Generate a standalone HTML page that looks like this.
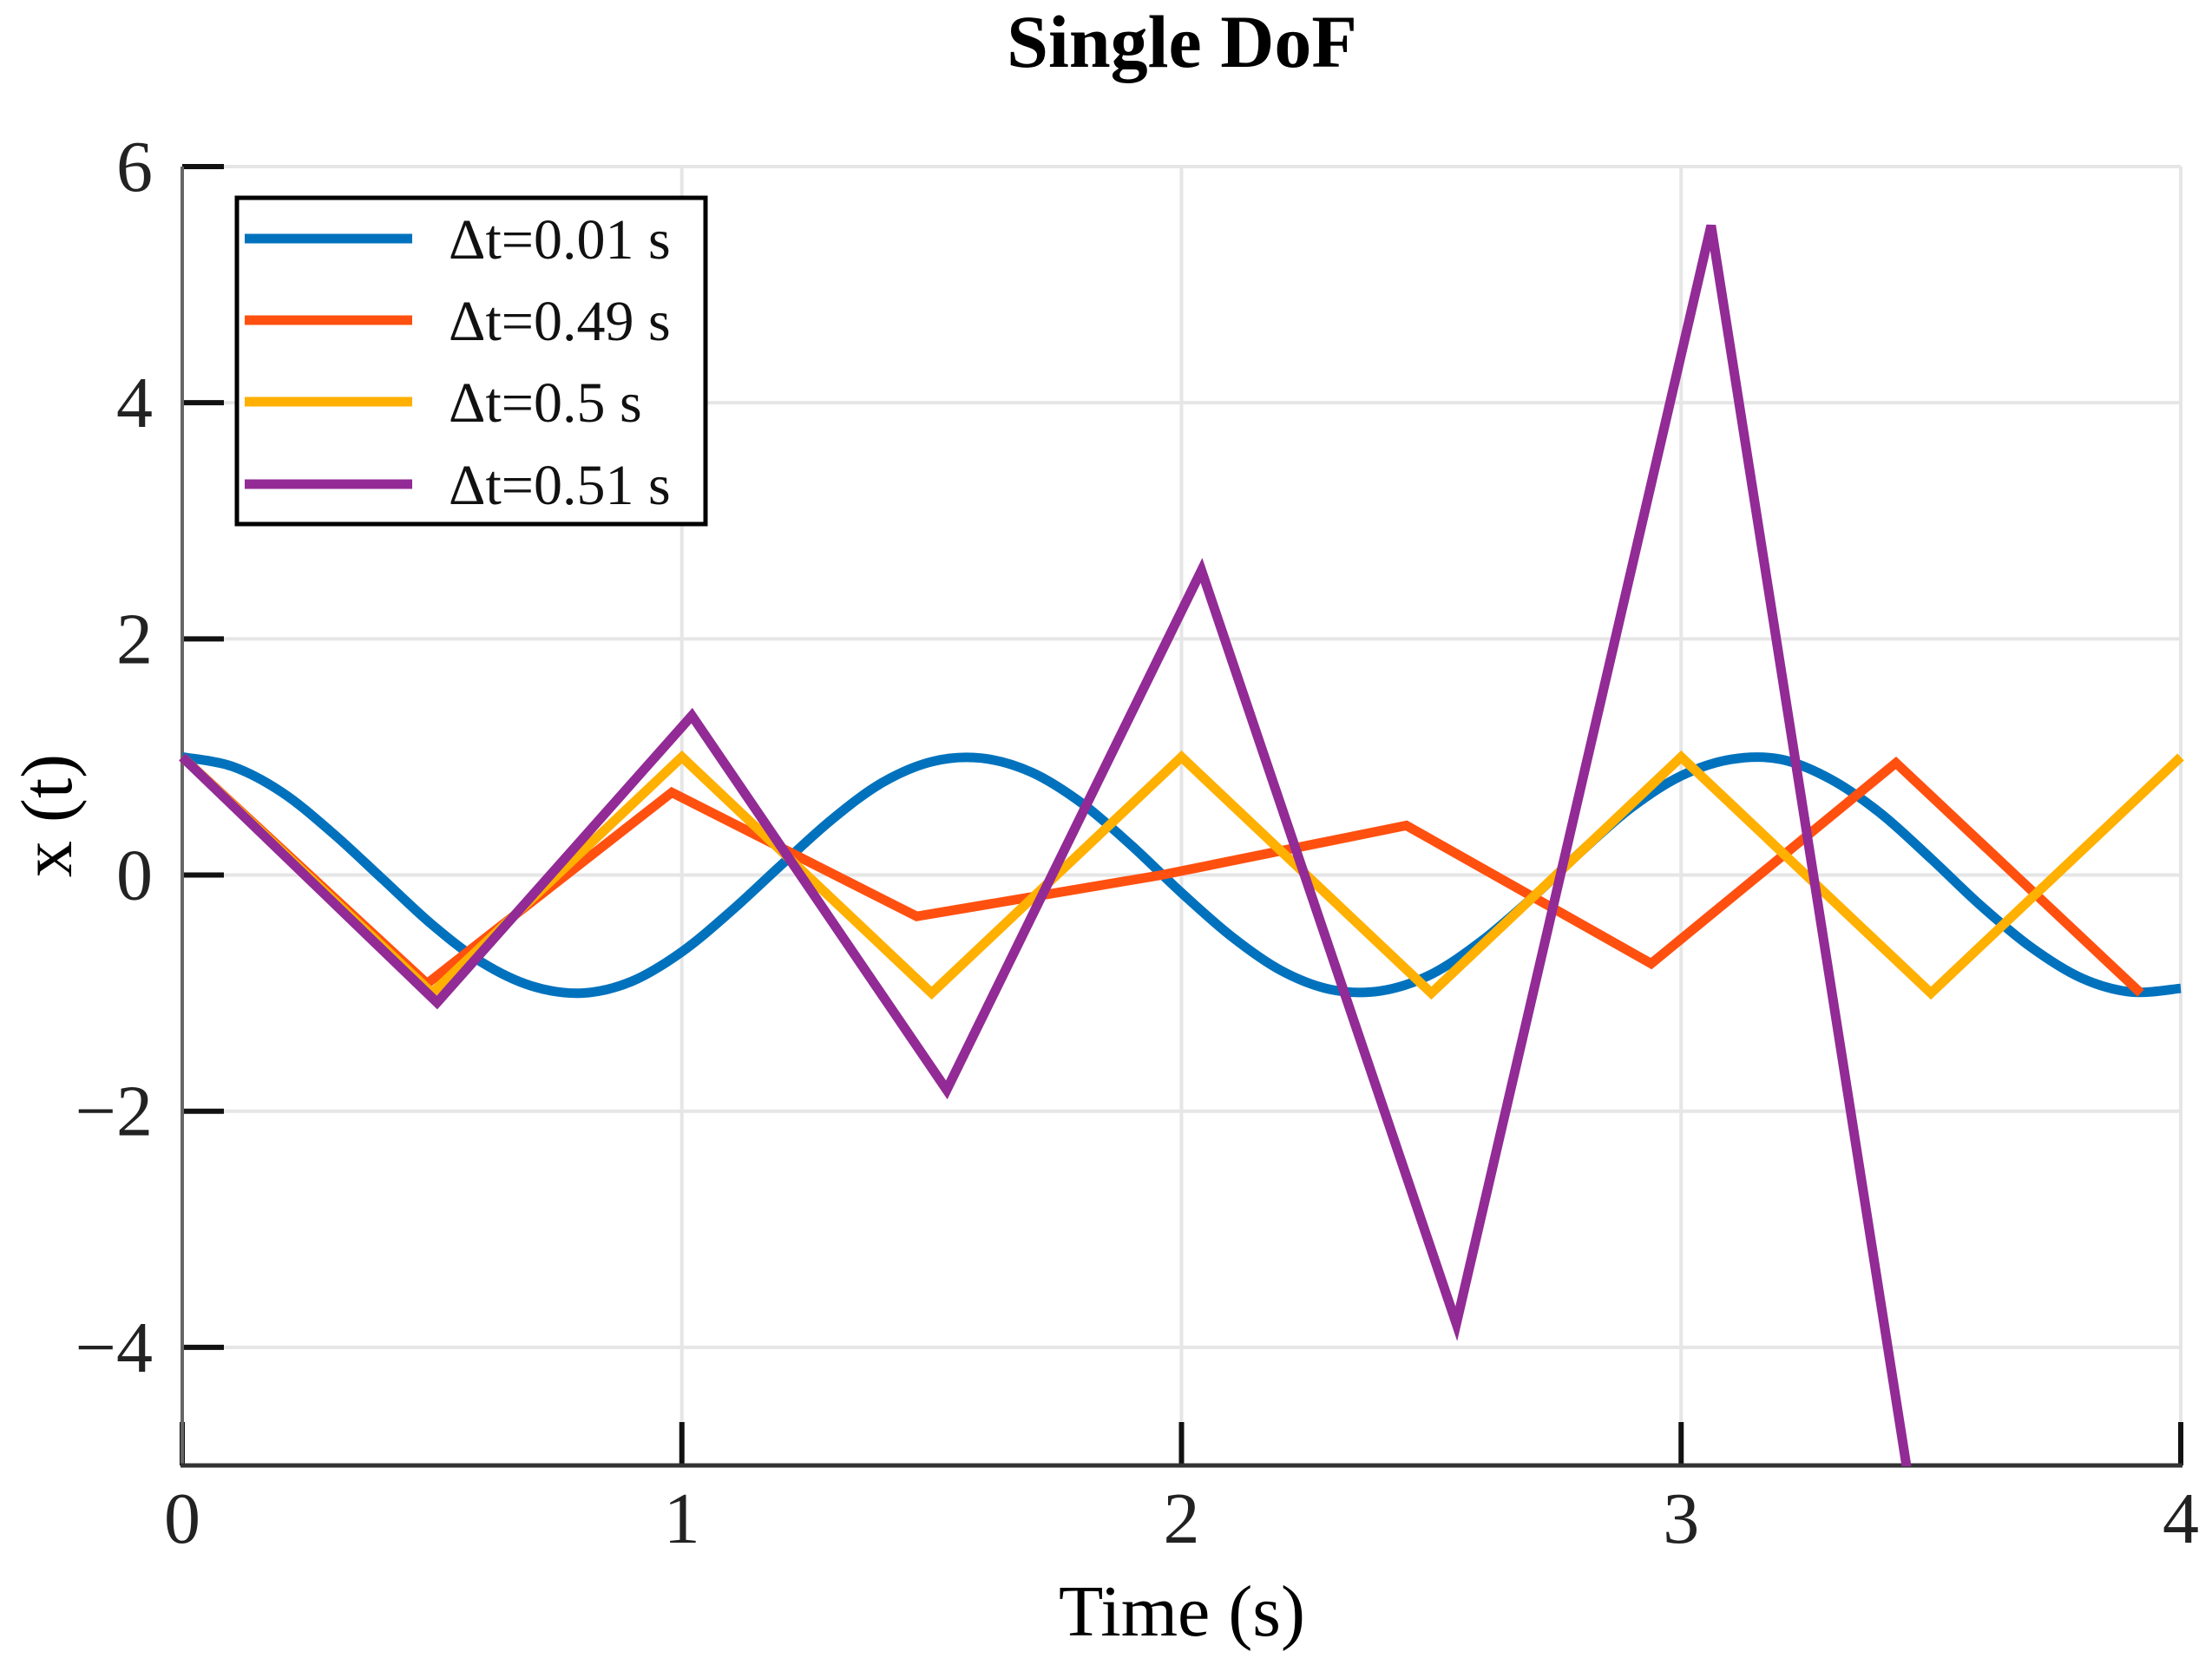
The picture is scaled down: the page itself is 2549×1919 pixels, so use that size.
<!DOCTYPE html>
<html><head><meta charset="utf-8"><style>
html,body{margin:0;padding:0;background:#fff;width:2549px;height:1919px;overflow:hidden;}
svg{display:block;font-family:"Liberation Serif",serif;}
</style></head><body>
<svg id="chart" width="2549" height="1919" viewBox="0 0 2549 1919" xmlns="http://www.w3.org/2000/svg">
<defs><clipPath id="plotclip"><rect x="204" y="186" width="2316" height="1504"/></clipPath></defs>
<text x="1362" y="77" text-anchor="middle" font-size="86" font-weight="bold">Single DoF</text>
<g id="grid"></g>
<g id="axes"></g>
<g id="series" clip-path="url(#plotclip)"></g>
<text x="1362" y="1885" text-anchor="middle" font-size="84">Time (s)</text>
<text x="0" y="0" transform="translate(82,940) rotate(-90)" text-anchor="middle" font-size="84">x (t)</text>
<g id="legend"></g>
</svg>
<script>
const xTicks = [0, 1, 2, 3, 4];
const xTickLabels = ["0", "1", "2", "3", "4"];
const yTicks = [-4, -2, 0, 2, 4, 6];
const yTickLabels = ["\u22124", "\u22122", "0", "2", "4", "6"];
const seriesNames = ["\u0394t=0.01 s", "\u0394t=0.49 s", "\u0394t=0.5 s", "\u0394t=0.51 s"];
const seriesColors = ["#0072BD", "#FF5010", "#FFB000", "#922B95"];
const blueT = [0,0.1,0.2,0.3,0.4,0.5,0.6,0.7,0.8,0.9,1.0,1.1,1.2,1.3,1.4,1.5,1.6,1.7,1.8,1.9,2.0,2.1,2.2,2.3,2.4,2.5,2.6,2.7,2.8,2.9,3.0,3.1,3.2,3.3,3.4,3.5,3.6,3.7,3.8,3.9,4.0];
const blueX = [1,0.92,0.70,0.36,-0.03,-0.42,-0.74,-0.94,-1.00,-0.90,-0.65,-0.30,0.09,0.47,0.78,0.96,0.99,0.87,0.61,0.25,-0.15,-0.52,-0.81,-0.97,-0.98,-0.84,-0.56,-0.20,0.20,0.57,0.84,0.98,0.98,0.81,0.52,0.14,-0.26,-0.61,-0.87,-0.99,-0.96];
const orangeT = [0,0.49,0.98,1.47,1.96,2.45,2.94,3.43,3.92];
const orangeX = [1,-0.92,0.70,-0.35,0.0,0.42,-0.75,0.95,-1.0];
const yellowT = [0,0.5,1,1.5,2,2.5,3,3.5,4];
const yellowX = [1,-1,1,-1,1,-1,1,-1,1];
const purpleT = [0,0.51,1.02,1.53,2.04,2.55,3.06,3.57];
const purpleX = [1,-1.08,1.35,-1.82,2.58,-3.8,5.5,-8.2];

const NS = "http://www.w3.org/2000/svg";
const X0 = 210, X1 = 2513, XMIN = 0, XMAX = 4;
const Y0 = 1689, Y1 = 192, YMIN = -5, YMAX = 6;
function sx(v){ return X0 + (v - XMIN) / (XMAX - XMIN) * (X1 - X0); }
function sy(v){ return Y0 - (v - YMIN) / (YMAX - YMIN) * (Y0 - Y1); }
function mk(tag, attrs, parent){ const e = document.createElementNS(NS, tag); for (const k in attrs) e.setAttribute(k, attrs[k]); parent.appendChild(e); return e; }

const grid = document.getElementById('grid');
const axes = document.getElementById('axes');
xTicks.forEach((t, i) => {
  const g = mk('line', {x1: sx(t), x2: sx(t), y1: Y1, y2: Y0, stroke: '#e6e6e6', 'stroke-width': 4}, grid);
  
  
  const tk = mk('line', {x1: sx(t), x2: sx(t), y1: Y0, y2: Y0 - 50, stroke: '#111', 'stroke-width': 6}, axes);
  
  
  const lb = mk('text', {x: sx(t), y: 1778, 'text-anchor': 'middle', 'font-size': 84, fill: '#222'}, axes);
  lb.textContent = xTickLabels[i];
  
  
});
yTicks.forEach((t, i) => {
  const g = mk('line', {x1: X0, x2: X1, y1: sy(t), y2: sy(t), stroke: '#e6e6e6', 'stroke-width': 4}, grid);
  
  
  const tk = mk('line', {x1: X0, x2: X0 + 48, y1: sy(t), y2: sy(t), stroke: '#111', 'stroke-width': 6}, axes);
  
  
  const lb = mk('text', {x: 176, y: sy(t) + 28, 'text-anchor': 'end', 'font-size': 84, fill: '#222'}, axes);
  lb.textContent = yTickLabels[i];
  
  
});
const yAxis = mk('line', {x1: X0, x2: X0, y1: Y1, y2: Y0 + 2, stroke: '#666', 'stroke-width': 4}, axes);


const xAxis = mk('line', {x1: X0 - 2, x2: X1 + 2, y1: Y0, y2: Y0, stroke: '#333', 'stroke-width': 5}, axes);



const seriesG = document.getElementById('series');
function linePath(ts, xs){ return ts.map((t, i) => (i ? 'L' : 'M') + sx(t).toFixed(1) + ',' + sy(xs[i]).toFixed(1)).join(' '); }
function smoothPath(ts, xs){
  const p = ts.map((t, i) => [sx(t), sy(xs[i])]);
  let d = 'M' + p[0][0] + ',' + p[0][1];
  for (let i = 0; i < p.length - 1; i++) {
    const a = p[Math.max(i - 1, 0)], b = p[i], c = p[i + 1], e = p[Math.min(i + 2, p.length - 1)];
    const c1x = b[0] + (c[0] - a[0]) / 6, c1y = b[1] + (c[1] - a[1]) / 6;
    const c2x = c[0] - (e[0] - b[0]) / 6, c2y = c[1] - (e[1] - b[1]) / 6;
    d += ' C' + c1x.toFixed(1) + ',' + c1y.toFixed(1) + ' ' + c2x.toFixed(1) + ',' + c2y.toFixed(1) + ' ' + c[0].toFixed(1) + ',' + c[1].toFixed(1);
  }
  return d;
}
const paths = [smoothPath(blueT, blueX), linePath(orangeT, orangeX), linePath(yellowT, yellowX), linePath(purpleT, purpleX)];
const sNames = ['series-dt-0.01', 'series-dt-0.49', 'series-dt-0.5', 'series-dt-0.51'];
paths.forEach((d, i) => {
  const p = mk('path', {d: d, fill: 'none', stroke: seriesColors[i], 'stroke-width': 11, 'stroke-linejoin': 'miter', 'stroke-miterlimit': 4}, seriesG);
  
  
});

const leg = document.getElementById('legend');
const box = mk('rect', {x: 273, y: 228, width: 540, height: 376, fill: '#fff', stroke: '#000', 'stroke-width': 5}, leg);


const rowY = [275, 369, 463, 558];
seriesNames.forEach((n, i) => {
  const l = mk('line', {x1: 282, x2: 475, y1: rowY[i], y2: rowY[i], stroke: seriesColors[i], 'stroke-width': 11}, leg);
  
  
  const t = mk('text', {x: 517, y: rowY[i] + 23, 'font-size': 66, fill: '#111'}, leg);
  t.textContent = n;
  
  
});
</script>
</body></html>
